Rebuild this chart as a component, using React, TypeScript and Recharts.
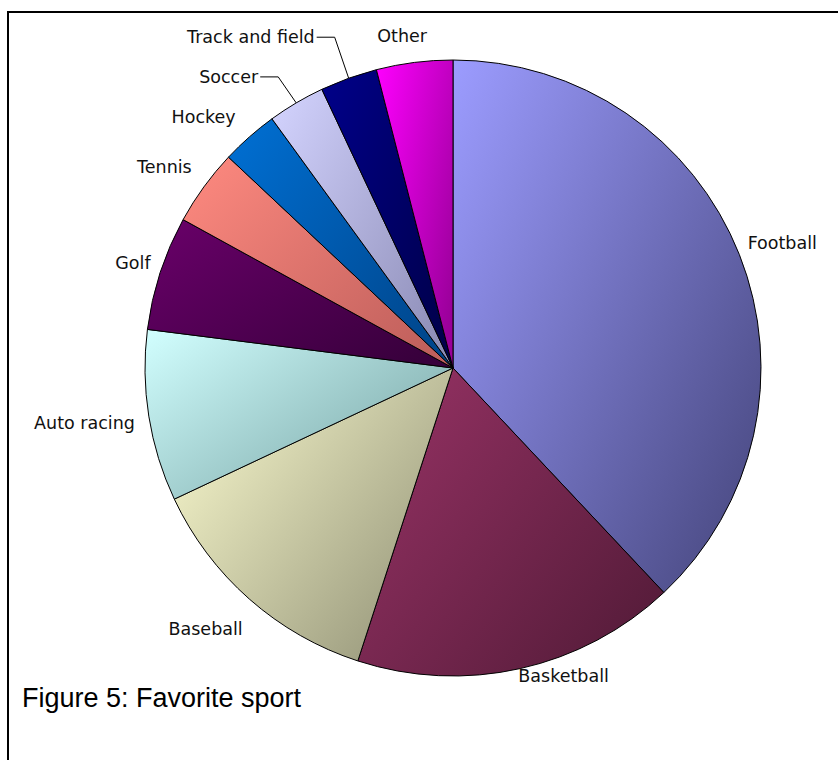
import React from "react";
import { PieChart, Pie, Cell } from "recharts";

// favorite sport shares, clockwise from 12 o'clock
const sports = ["Football", "Basketball", "Baseball", "Auto racing", "Golf", "Tennis", "Hockey", "Soccer", "Track and field", "Other"];
const shares = [38, 17, 13, 9, 6, 4, 3, 3, 3, 4];

const data = sports.map((name, i) => ({ name, value: shares[i] }));

// light -> dark gradient stops, Excel 2003 palette
const GRADIENTS: Array<[string, string]> = [
  ["#9c9cff", "#4c4c86"],
  ["#993366", "#561c3a"],
  ["#ffffd2", "#96967a"],
  ["#d2ffff", "#7aa6a6"],
  ["#6a006a", "#38003c"],
  ["#ff8a80", "#c0605c"],
  ["#0070d4", "#00468c"],
  ["#d4d4ff", "#8e8eb8"],
  ["#00008a", "#00004c"],
  ["#ff00ff", "#9a009a"],
];

const RAD = Math.PI / 180;
const FONT = "'DejaVu Sans', Tahoma, sans-serif";

// per-label nudges relative to the polar anchor point (Excel placed them by hand)
const NUDGE: Record<string, { dx: number; dy: number; anchor: "start" | "middle" | "end"; leader?: boolean }> = {
  Football: { dx: -1, dy: -8, anchor: "start" },
  Basketball: { dx: -4, dy: -2, anchor: "start" },
  Baseball: { dx: 0, dy: 22, anchor: "end" },
  "Auto racing": { dx: -4, dy: 5, anchor: "end" },
  Golf: { dx: 0, dy: -7, anchor: "end" },
  Tennis: { dx: -4, dy: -14, anchor: "end" },
  Hockey: { dx: -7, dy: -12, anchor: "end" },
  Soccer: { dx: -18, dy: -26, anchor: "end", leader: true },
  "Track and field": { dx: -14, dy: -41, anchor: "end", leader: true },
  Other: { dx: -11, dy: -17, anchor: "middle" },
};

function renderLabel(props: any) {
  const { cx, cy, midAngle, outerRadius, name } = props;
  const n = NUDGE[name];
  const cos = Math.cos(-midAngle * RAD);
  const sin = Math.sin(-midAngle * RAD);
  if (n.leader) {
    const ex = cx + outerRadius * cos;
    const ey = cy + outerRadius * sin;
    const kx = ex + n.dx;
    const ky = ey + n.dy;
    return (
      <g key={name}>
        <polyline points={`${ex},${ey} ${kx},${ky} ${kx - 18},${ky}`} fill="none" stroke="#000" strokeWidth={1} />
        <text x={kx - 20} y={ky} textAnchor="end" dominantBaseline="central" fontFamily={FONT} fontSize={17.5} fill="#111">
          {name}
        </text>
      </g>
    );
  }
  const x = cx + (outerRadius + 10) * cos + n.dx;
  const y = cy + (outerRadius + 10) * sin + n.dy;
  return (
    <text key={name} x={x} y={y} textAnchor={n.anchor} dominantBaseline="central" fontFamily={FONT} fontSize={17.5} fill="#111">
      {name}
    </text>
  );
}

export default function App() {
  return (
    <div style={{ position: "fixed", left: 0, top: 0, width: 838, height: 760, background: "#fff" }}>
      <PieChart width={838} height={760} margin={{ top: 0, right: 0, bottom: 0, left: 0 }}>
        <defs>
          {GRADIENTS.map(([a, b], i) => (
            <linearGradient key={i} id={`grad-${i}`} x1="0" y1="0" x2="1" y2="0.8">
              <stop offset="0%" stopColor={a} />
              <stop offset="100%" stopColor={b} />
            </linearGradient>
          ))}
        </defs>
        <Pie
          data={data}
          dataKey="value"
          nameKey="name"
          cx={453}
          cy={368}
          outerRadius={308}
          startAngle={90}
          endAngle={-270}
          stroke="#000"
          strokeWidth={1}
          label={renderLabel}
          labelLine={false}
          isAnimationActive={false}
        >
          {data.map((_, i) => (
            <Cell key={`cell-${i}`} fill={`url(#grad-${i})`} />
          ))}
        </Pie>
      </PieChart>
      {/* frame: only top and left edges show in the figure */}
      <div style={{ position: "absolute", left: 7, top: 11, width: 831, height: 749, borderTop: "2px solid #000", borderLeft: "2px solid #000" }} />
      <div style={{ position: "absolute", left: 22, top: 683, fontFamily: "'Liberation Sans', Arial, sans-serif", fontSize: 27, color: "#000", whiteSpace: "nowrap" }}>
        Figure 5: Favorite sport
      </div>
    </div>
  );
}
